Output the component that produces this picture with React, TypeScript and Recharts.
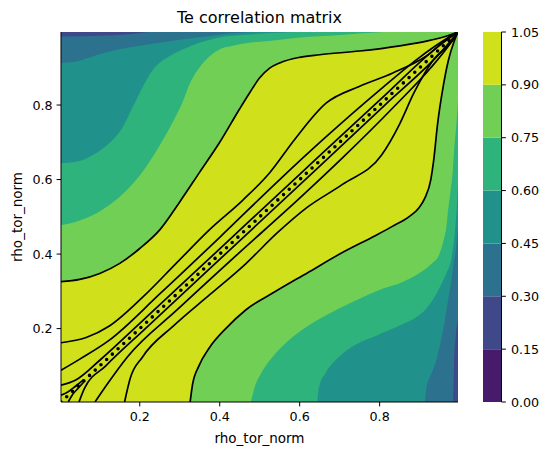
import React from 'react';
import { ComposedChart, Area, Line, Bar, XAxis, YAxis, CartesianGrid } from 'recharts';

// contour levels (colorbar ticks) and the colour of each band between them
const LEVELS = [0, 0.15, 0.3, 0.45, 0.6, 0.75, 0.9, 1.05];
const BAND_COLORS = ['#481a6c', '#3f4889', '#2c718e', '#21918c', '#2eb37c', '#72cf56', '#d0e11c'];
const AXIS_TICKS = [0.2, 0.4, 0.6, 0.8];
const RHO = [0.003, 0.996];

// filled-band boundaries, upper-left half (lower-right half is the mirror image)
const C90_X = [0.003, 0.05, 0.1, 0.15, 0.2, 0.25, 0.3, 0.35, 0.4, 0.45, 0.475, 0.5, 0.525, 0.55, 0.6, 0.65, 0.75, 0.85, 0.92, 0.97, 0.996];
const C90_Y = [0.326, 0.332, 0.348, 0.375, 0.415, 0.465, 0.54, 0.62, 0.7, 0.79, 0.833, 0.873, 0.899, 0.913, 0.928, 0.935, 0.945, 0.959, 0.972, 0.986, 0.996];
const C75_X = [0.003, 0.041, 0.083, 0.124, 0.166, 0.208, 0.249, 0.283, 0.308, 0.324, 0.349, 0.374, 0.399, 0.433, 0.474, 0.516, 0.566, 0.624, 0.674, 0.749, 0.812];
const C75_Y = [0.478, 0.487, 0.505, 0.532, 0.57, 0.622, 0.69, 0.755, 0.81, 0.855, 0.9, 0.93, 0.949, 0.959, 0.967, 0.971, 0.977, 0.983, 0.986, 0.992, 0.996];
const C60_X = [0.003, 0.041, 0.083, 0.124, 0.158, 0.183, 0.208, 0.233, 0.249, 0.274, 0.316, 0.349, 0.391, 0.457, 0.524, 0.587];
const C60_Y = [0.644, 0.648, 0.666, 0.698, 0.742, 0.796, 0.85, 0.895, 0.913, 0.931, 0.953, 0.967, 0.98, 0.988, 0.993, 0.996];
const C45_X = [0.003, 0.041, 0.083, 0.124, 0.166, 0.216, 0.274, 0.333, 0.374, 0.424, 0.474];
const C45_Y = [0.913, 0.917, 0.931, 0.944, 0.953, 0.962, 0.971, 0.98, 0.985, 0.992, 0.996];
const C30_X = [0.003, 0.099, 0.174, 0.219];
const C30_Y = [0.984, 0.986, 0.99, 0.996];

// black contour lines above the 0.9 level
const L2_X = [0.003, 0.066, 0.124, 0.208, 0.291, 0.374, 0.458, 0.524, 0.587, 0.666, 0.749, 0.833, 0.916, 0.983, 0.996];
const L2_Y = [0.162, 0.176, 0.207, 0.285, 0.375, 0.465, 0.545, 0.617, 0.707, 0.805, 0.85, 0.886, 0.931, 0.989, 0.996];
const L3_X = [0.003, 0.05, 0.124, 0.25, 0.4, 0.55, 0.658, 0.8, 0.9, 0.96, 0.996];
const L3_Y = [0.088, 0.118, 0.169, 0.293, 0.445, 0.6, 0.707, 0.84, 0.928, 0.973, 0.996];
const L4_X = [0.003, 0.04, 0.1, 0.2, 0.4, 0.6, 0.8, 0.95, 0.996];
const L4_Y = [0.048, 0.062, 0.115, 0.214, 0.414, 0.614, 0.813, 0.96, 0.996];
// short arc near the origin that closes onto the diagonal
const L5_X = [0.003, 0.02, 0.04, 0.06];
const L5_Y = [0.021, 0.03, 0.046, 0.063];

const toPts = (xs: number[], ys: number[]) => xs.map((x, i) => ({ x, y: ys[i] }));
const mirror = (xs: number[], ys: number[]) => xs.map((x, i) => ({ x: ys[i], y: x }));

// painted from the widest region inwards; colour = band just below the level
const FILLS = [
  { xs: C90_X, ys: C90_Y, color: BAND_COLORS[5] },
  { xs: C75_X, ys: C75_Y, color: BAND_COLORS[4] },
  { xs: C60_X, ys: C60_Y, color: BAND_COLORS[3] },
  { xs: C45_X, ys: C45_Y, color: BAND_COLORS[2] },
  { xs: C30_X, ys: C30_Y, color: BAND_COLORS[1] },
];
const LINES = [
  { xs: C90_X, ys: C90_Y },
  { xs: L2_X, ys: L2_Y },
  { xs: L3_X, ys: L3_Y },
  { xs: L4_X, ys: L4_Y },
  { xs: L5_X, ys: L5_Y },
];

// one stacked column for the colorbar, a segment per band
const CB_ROW = [
  BAND_COLORS.reduce((row: Record<string, number | string>, _, i) => {
    row[`b${i}`] = LEVELS[i + 1] - LEVELS[i];
    return row;
  }, { name: 'cb' }),
];

const FONT = 'DejaVu Sans';
const tickStyle = { fill: '#000', fontSize: 12.7, fontFamily: FONT };
const labelStyle = { fill: '#000', fontSize: 13.5, fontFamily: FONT };

export default function App() {
  return (
    <div style={{ position: 'absolute', left: 0, top: 0, width: 551, height: 455, background: '#fff', fontFamily: FONT }}>
      <div style={{ position: 'absolute', left: 61, top: 8, width: 397, textAlign: 'center', fontSize: 16, lineHeight: 'normal' }}>
        Te correlation matrix
      </div>
      <div style={{ position: 'absolute', left: 0, top: 0 }}>
        <ComposedChart width={551} height={455} margin={{ top: 32, right: 93, bottom: 23, left: 11 }}>
          <CartesianGrid horizontal={false} vertical={false} fill={BAND_COLORS[6]} stroke="none" />
          {FILLS.map((f, i) => (
            <Area key={`u${i}`} data={toPts(f.xs, f.ys)} dataKey="y" type="monotone" baseValue="dataMax"
              fill={f.color} fillOpacity={1} stroke="none" isAnimationActive={false} activeDot={false} />
          ))}
          {FILLS.map((f, i) => (
            <Area key={`l${i}`} data={mirror(f.xs, f.ys)} dataKey="y" type="monotone" baseValue="dataMin"
              fill={f.color} fillOpacity={1} stroke="none" isAnimationActive={false} activeDot={false} />
          ))}
          {LINES.map((l, i) => (
            <Line key={`a${i}`} data={toPts(l.xs, l.ys)} dataKey="y" type="monotone" stroke="#000"
              strokeWidth={1.7} dot={false} activeDot={false} isAnimationActive={false} />
          ))}
          {LINES.map((l, i) => (
            <Line key={`b${i}`} data={mirror(l.xs, l.ys)} dataKey="y" type="monotone" stroke="#000"
              strokeWidth={1.7} dot={false} activeDot={false} isAnimationActive={false} />
          ))}
          <Line data={toPts(RHO, RHO)} dataKey="y" type="linear" stroke="#000" strokeWidth={3.6}
            strokeDasharray="0 7.8" strokeLinecap="round" dot={false} activeDot={false} isAnimationActive={false} />
          <XAxis dataKey="x" type="number" domain={RHO} allowDataOverflow ticks={AXIS_TICKS}
            tickFormatter={(v: number) => v.toFixed(1)} tick={tickStyle} tickSize={4.4} tickMargin={6}
            axisLine={{ stroke: '#000' }} tickLine={{ stroke: '#000' }} height={30}
            label={{ value: 'rho_tor_norm', position: 'bottom', offset: 1, style: labelStyle }} />
          <XAxis xAxisId="top" orientation="top" type="number" domain={RHO} tick={false} tickLine={false}
            axisLine={{ stroke: '#000' }} height={0} />
          <YAxis type="number" domain={RHO} allowDataOverflow ticks={AXIS_TICKS}
            tickFormatter={(v: number) => v.toFixed(1)} tick={tickStyle} tickSize={4.4} tickMargin={4}
            axisLine={{ stroke: '#000' }} tickLine={{ stroke: '#000' }} width={50}
            label={{ value: 'rho_tor_norm', angle: -90, position: 'insideLeft', offset: 6, style: { ...labelStyle, textAnchor: 'middle' } }} />
          <YAxis yAxisId="right" orientation="right" type="number" domain={RHO} tick={false} tickLine={false}
            axisLine={{ stroke: '#000' }} width={0} />
        </ComposedChart>
      </div>
      <div style={{ position: 'absolute', left: 0, top: 0 }}>
        <ComposedChart width={551} height={455} data={CB_ROW} margin={{ top: 32, right: 0, bottom: 53, left: 483 }}
          barCategoryGap={0} barGap={0}>
          {BAND_COLORS.map((c, i) => (
            <Bar key={i} dataKey={`b${i}`} stackId="cb" fill={c} isAnimationActive={false} />
          ))}
          <XAxis dataKey="name" tick={false} tickLine={false} axisLine={{ stroke: '#000' }} height={0} />
          <XAxis xAxisId="top" dataKey="name" orientation="top" tick={false} tickLine={false} axisLine={{ stroke: '#000' }} height={0} />
          <YAxis yAxisId="left" type="number" domain={[0, 1.05]} tick={false} tickLine={false} axisLine={{ stroke: '#000' }} width={0} />
          <YAxis orientation="right" type="number" domain={[0, 1.05]} allowDataOverflow ticks={LEVELS}
            tickFormatter={(v: number) => v.toFixed(2)} tick={{ ...tickStyle, textAnchor: 'start' }} tickSize={4.4}
            tickMargin={5} axisLine={{ stroke: '#000' }} tickLine={{ stroke: '#000' }} width={49.5} interval={0} />
        </ComposedChart>
      </div>
    </div>
  );
}
